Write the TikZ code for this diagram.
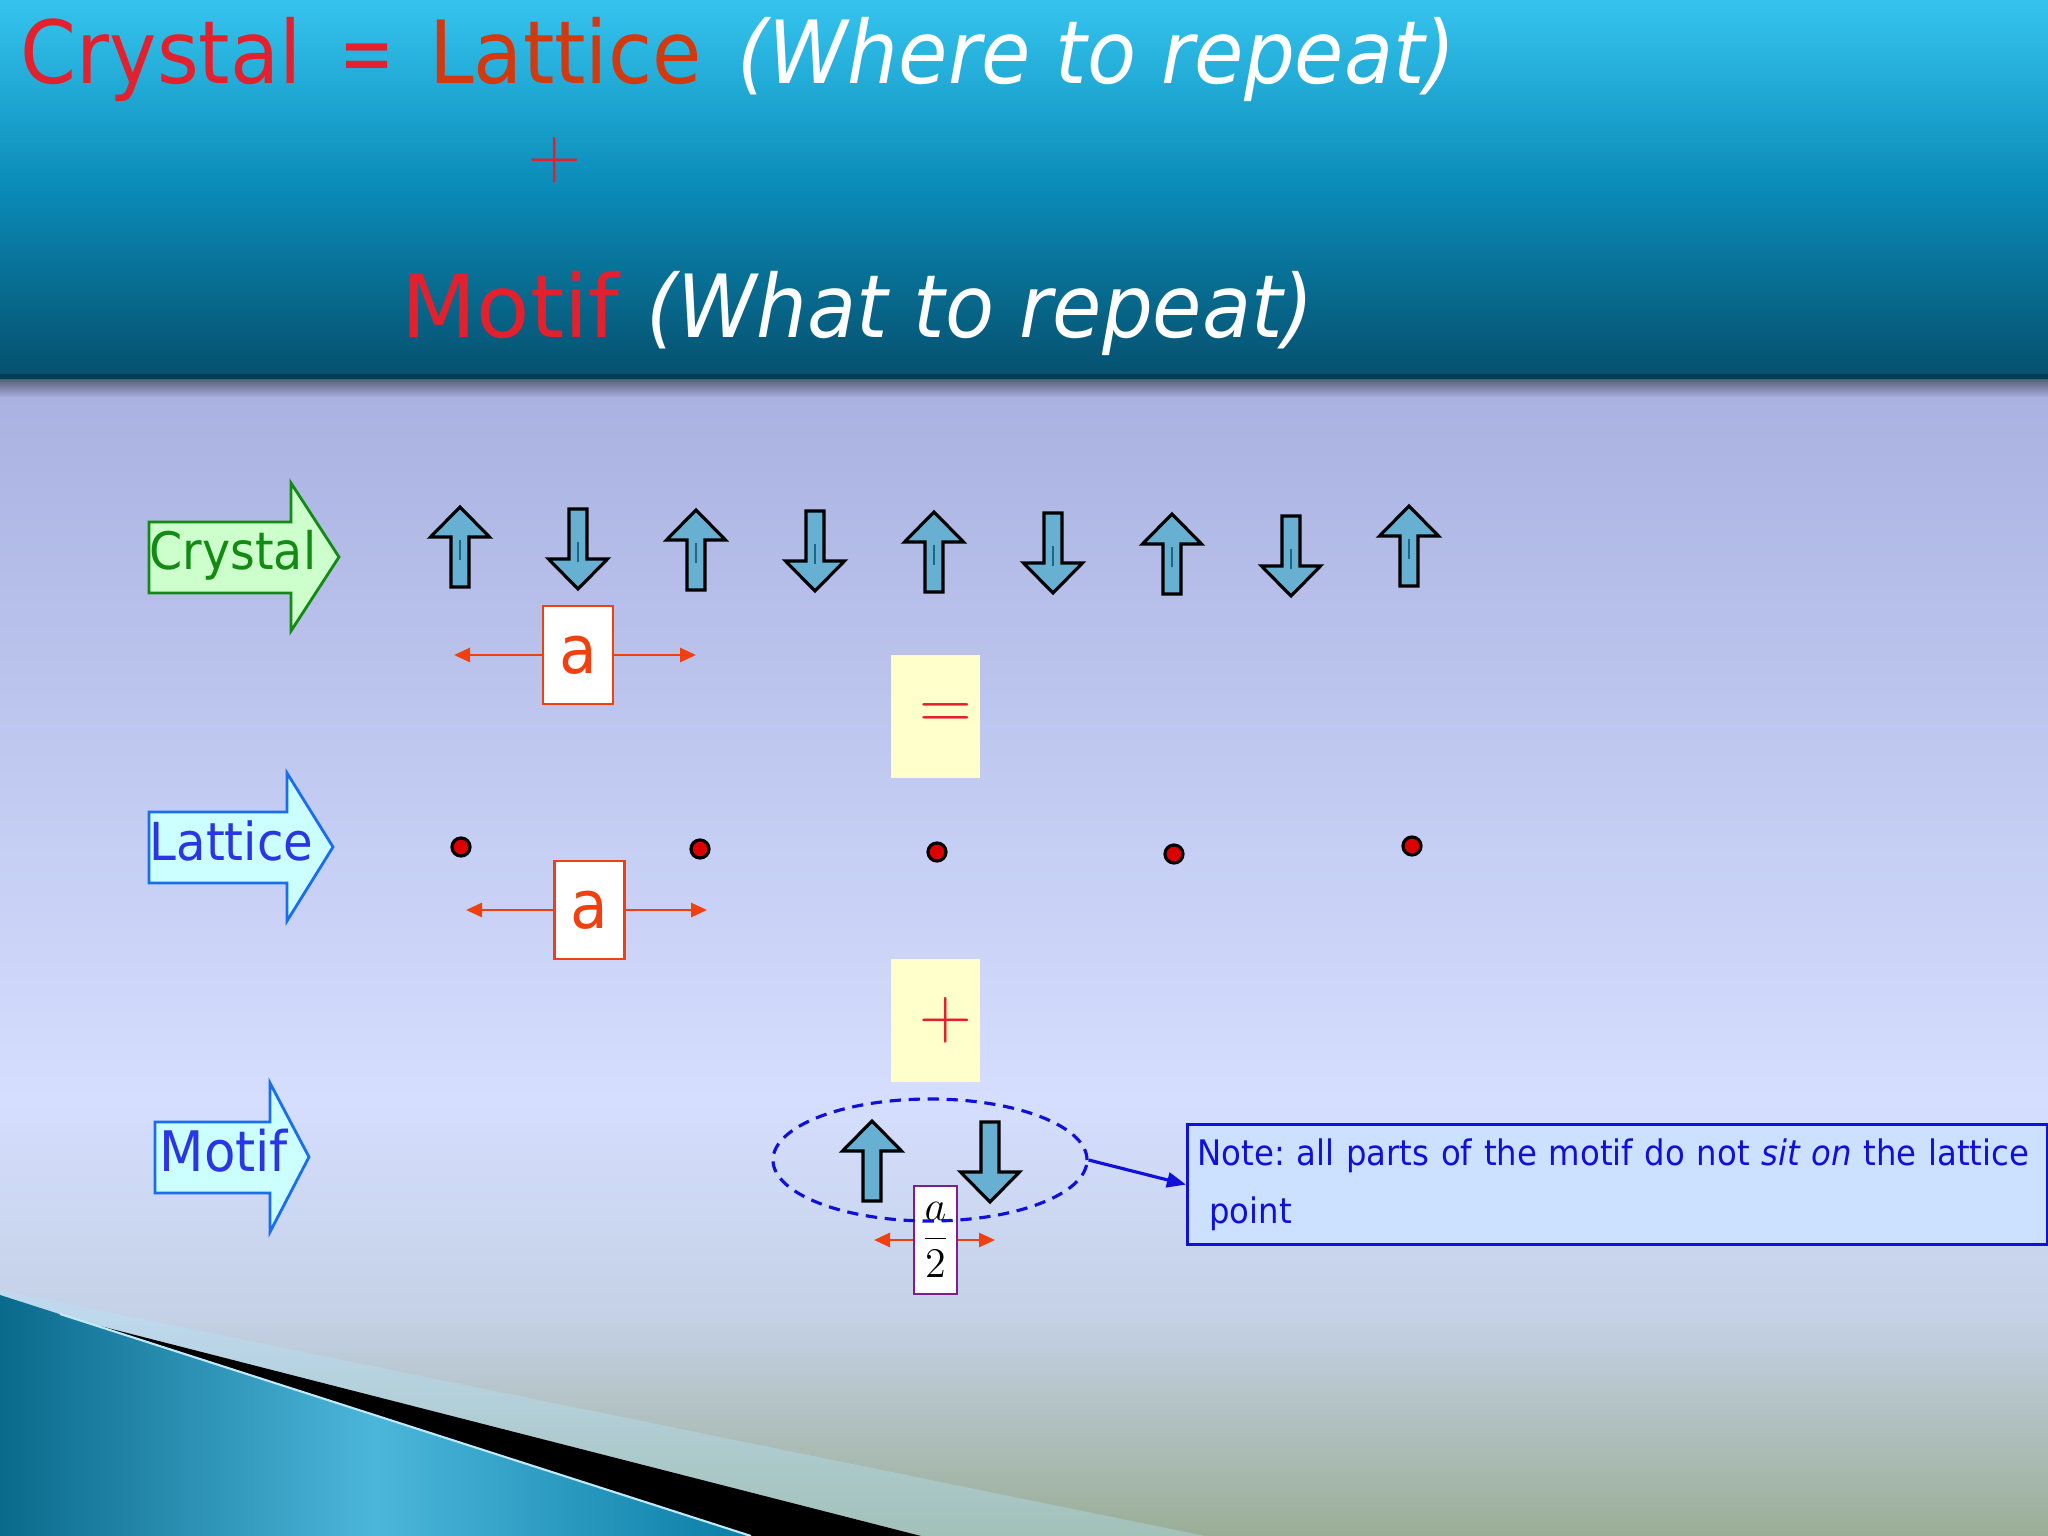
\documentclass[tikz,border=0pt]{standalone}
\usepackage{fontspec}
\setmainfont{DejaVu Sans}[FakeStretch=0.92]
\usetikzlibrary{arrows.meta,shapes.geometric}

\definecolor{hdrtop}{HTML}{35C4EE}
\definecolor{hdrmid}{HTML}{0A8BB8}
\definecolor{hdrbot}{HTML}{06506E}
\definecolor{hdrline}{HTML}{043C54}
\definecolor{bgtop}{HTML}{AAB2E1}
\definecolor{bgmid}{HTML}{D5DEFE}
\definecolor{bglow}{HTML}{C4D1E6}
\definecolor{bgbot}{HTML}{9AAE96}
\definecolor{titlered}{HTML}{E3202E}
\definecolor{titleorange}{HTML}{D2390F}
\definecolor{spinfill}{HTML}{68B0D2}
\definecolor{spinline}{HTML}{1D6784}
\definecolor{dimred}{HTML}{F0400F}
\definecolor{eqfill}{HTML}{FFFFCC}
\definecolor{notefill}{HTML}{CCE0FF}
\definecolor{noteblue}{HTML}{1010D8}
\definecolor{crysgreen}{HTML}{138A13}
\definecolor{crysfill}{HTML}{CCFFCC}
\definecolor{latblue}{HTML}{2A35E6}
\definecolor{latedge}{HTML}{1A6EEE}
\definecolor{latfill}{HTML}{CCFFFF}
\definecolor{dotred}{HTML}{DD0000}
\definecolor{halfpurple}{HTML}{7F1F8F}
\definecolor{swoopdark}{HTML}{0A6A8C}
\definecolor{swooplight}{HTML}{4CB6DA}
\definecolor{swoopright}{HTML}{0A7EA6}

\tikzset{
  spin/.style={draw=black, line width=0.9pt, fill=spinfill, line join=miter},
  spincore/.style={draw=spinline, line width=0.6pt},
  spinup/.pic={\draw[spin] (-0.09,-0.40) -- (0.09,-0.40) -- (0.09,0.10) -- (0.295,0.10) -- (0,0.40) -- (-0.295,0.10) -- (-0.09,0.10) -- cycle;},
  spindown/.pic={\draw[spin] (-0.09,0.40) -- (0.09,0.40) -- (0.09,-0.10) -- (0.295,-0.10) -- (0,-0.40) -- (-0.295,-0.10) -- (-0.09,-0.10) -- cycle;},
  crysarrow/.style={draw=crysgreen, line width=0.8pt, fill=crysfill},
  latarrow/.style={draw=latedge, line width=0.8pt, fill=latfill},
  rowlabel/.style={anchor=base west, inner sep=0pt},
  abox/.style={draw=dimred, line width=0.7pt, fill=white, text=dimred, minimum width=0.70cm, minimum height=0.98cm, inner sep=0pt, font=\fontsize{19}{22}\selectfont},
  dimarrow/.style={draw=dimred, line width=0.8pt, -{Triangle[length=0.16cm,width=0.14cm]}},
  signbox/.style={fill=eqfill, minimum width=0.89cm, minimum height=1.23cm, inner sep=0pt, text=titlered, font=\fontsize{20.5}{24}\selectfont},
  latpoint/.style={circle, draw=black, line width=0.9pt, fill=dotred, minimum size=0.18cm, inner sep=0pt},
  halfbox/.style={draw=halfpurple, line width=0.8pt, fill=white, minimum width=0.43cm, minimum height=1.08cm, inner sep=0pt, font=\fontsize{11.5}{13}\selectfont},
  motifring/.style={ellipse, draw=noteblue, line width=0.9pt, dash pattern=on 3.2pt off 2.2pt, minimum width=3.14cm, minimum height=1.22cm, inner sep=0pt},
  notebox/.style={draw=noteblue, line width=0.9pt, fill=notefill, text=noteblue, anchor=north west, minimum width=8.60cm, minimum height=1.20cm, text width=8.40cm, inner xsep=0.10cm, align=left, font=\fontsize{10.0}{12}\selectfont\frenchspacing},
  notearrow/.style={draw=noteblue, line width=0.9pt, -{Triangle[length=0.19cm,width=0.15cm]}}
}

\begin{document}
\begin{tikzpicture}
    \useasboundingbox (0,0) rectangle (20.48,-15.36);

    \shade[top color=hdrtop, bottom color=hdrbot, middle color=hdrmid] (0,0) rectangle (20.48,-3.76);
    \fill[hdrline] (0,-3.74) rectangle (20.48,-3.80);
    \shade[top color=black!45!bgtop, bottom color=bgtop] (0,-3.80) rectangle (20.48,-3.98);
    \shade[top color=bgtop, bottom color=bgmid] (0,-3.98) rectangle (20.48,-11.00);
    \shade[top color=bgmid, bottom color=bgbot, middle color=bglow] (0,-11.00) rectangle (20.48,-15.36);

    \fill[cyan!30!white, opacity=0.35] (0,-12.90) -- (12.05,-15.36) -- (0,-15.36) -- cycle;
    \shade[left color=swoopdark, right color=swoopright, middle color=swooplight] (0,-12.95) -- (7.51,-15.36) -- (0,-15.36) -- cycle;
    \fill[black] (1.00,-13.26) -- (9.21,-15.36) -- (7.51,-15.36) -- cycle;
    \draw[cyan!25!white, line width=0.6pt] (0.6,-13.14) -- (7.51,-15.36);

    \node[anchor=base west, inner sep=0pt, font=\fontsize{24.8}{29}\selectfont] (title) at (0.20,-0.84)
      {\textcolor{titlered}{Crystal}\hspace{0.43em}\textcolor{titlered}{\scalebox{0.82}[1]{=}}\hspace{0.40em}\textcolor{titleorange}{Lattice}\hspace{0.41em}\textcolor{white}{\itshape (Where to repeat)}};
    \node[inner sep=0pt, text=titlered, font=\fontsize{20.5}{24}\selectfont] (plus) at (5.55,-1.60) {$+$};
    \node[anchor=base west, inner sep=0pt, font=\fontsize{24.8}{29}\selectfont] (subtitle) at (4.01,-3.38)
      {\textcolor{titlered}{\addfontfeatures{FakeStretch=1.0}Motif}\hspace{0.31em}\textcolor{white}{\itshape (What to repeat)}};

    \draw[crysarrow] (1.49,-5.22) -- (2.91,-5.22) -- (2.91,-4.83) -- (3.39,-5.57) -- (2.91,-6.31) -- (2.91,-5.93) -- (1.49,-5.93) -- cycle;
    \node[rowlabel, text=crysgreen, font=\fontsize{14.7}{17}\selectfont] (crystal) at (1.49,-5.70) {Crystal};

    \draw[latarrow] (1.49,-8.12) -- (2.87,-8.12) -- (2.87,-7.73) -- (3.33,-8.47) -- (2.87,-9.21) -- (2.87,-8.83) -- (1.49,-8.83) -- cycle;
    \node[rowlabel, text=latblue, font=\fontsize{14.9}{17}\selectfont] (lattice) at (1.49,-8.60) {Lattice};

    \draw[latarrow] (1.55,-11.22) -- (2.70,-11.22) -- (2.70,-10.83) -- (3.09,-11.57) -- (2.70,-12.32) -- (2.70,-11.93) -- (1.55,-11.93) -- cycle;
    \node[rowlabel, text=latblue, font=\fontsize{15.9}{18}\selectfont] (motif) at (1.59,-11.71) {Motif};

    \foreach \x/\y in {4.60/5.47,6.96/5.50,9.34/5.52,11.72/5.54,14.09/5.46}
      \pic at (\x,-\y) {spinup};
    \foreach \x/\y in {5.78/5.49,8.15/5.51,10.53/5.53,12.91/5.56}
      \pic at (\x,-\y) {spindown};
    \foreach \x/\y in {4.60/5.47,5.78/5.49,6.96/5.50,8.15/5.51,9.34/5.52,10.53/5.53,11.72/5.54,12.91/5.56,14.09/5.46}
      \draw[spincore] (\x,-\y+0.07) -- (\x,-\y-0.13);

    \node[abox] (acry) at (5.78,-6.55) {a};
    \coordinate (acryL) at (4.54,-6.55);
    \coordinate (acryR) at (6.96,-6.55);
    \draw[dimarrow] (acry.west) -- (acryL);
    \draw[dimarrow] (acry.east) -- (acryR);

    \node[signbox] (eqbox) at (9.355,-7.17) {\hspace{0.21cm}$=$};

    \foreach \x/\y [count=\i] in {4.61/8.47,7.00/8.49,9.37/8.52,11.74/8.54,14.12/8.46}
      \node[latpoint] (pt\i) at (\x,-\y) {};

    \node[abox] (alat) at (5.895,-9.10) {a};
    \coordinate (alatL) at (4.66,-9.10);
    \coordinate (alatR) at (7.07,-9.10);
    \draw[dimarrow] (alat.west) -- (alatL);
    \draw[dimarrow] (alat.east) -- (alatR);

    \node[signbox] (plusbox) at (9.355,-10.20) {\hspace{0.21cm}$+$};

    \pic at (8.72,-11.61) {spinup};
    \pic at (9.90,-11.62) {spindown};

    \node[halfbox] (ahalf) at (9.355,-12.40) {$\displaystyle\frac{a}{2}$};
    \coordinate (ahalfL) at (8.74,-12.40);
    \coordinate (ahalfR) at (9.95,-12.40);
    \draw[dimarrow] (ahalf.west) -- (ahalfL);
    \draw[dimarrow] (ahalf.east) -- (ahalfR);

    \node[motifring] (ring) at (9.30,-11.60) {};

    \node[notebox] (note) at (11.86,-11.23)
      {\mbox{Note: all parts of the motif do not \textit{sit on} the lattice}\\[4.6pt]\ point};
    \draw[notearrow] (ring.east) -- (note.west);
\end{tikzpicture}
\end{document}
